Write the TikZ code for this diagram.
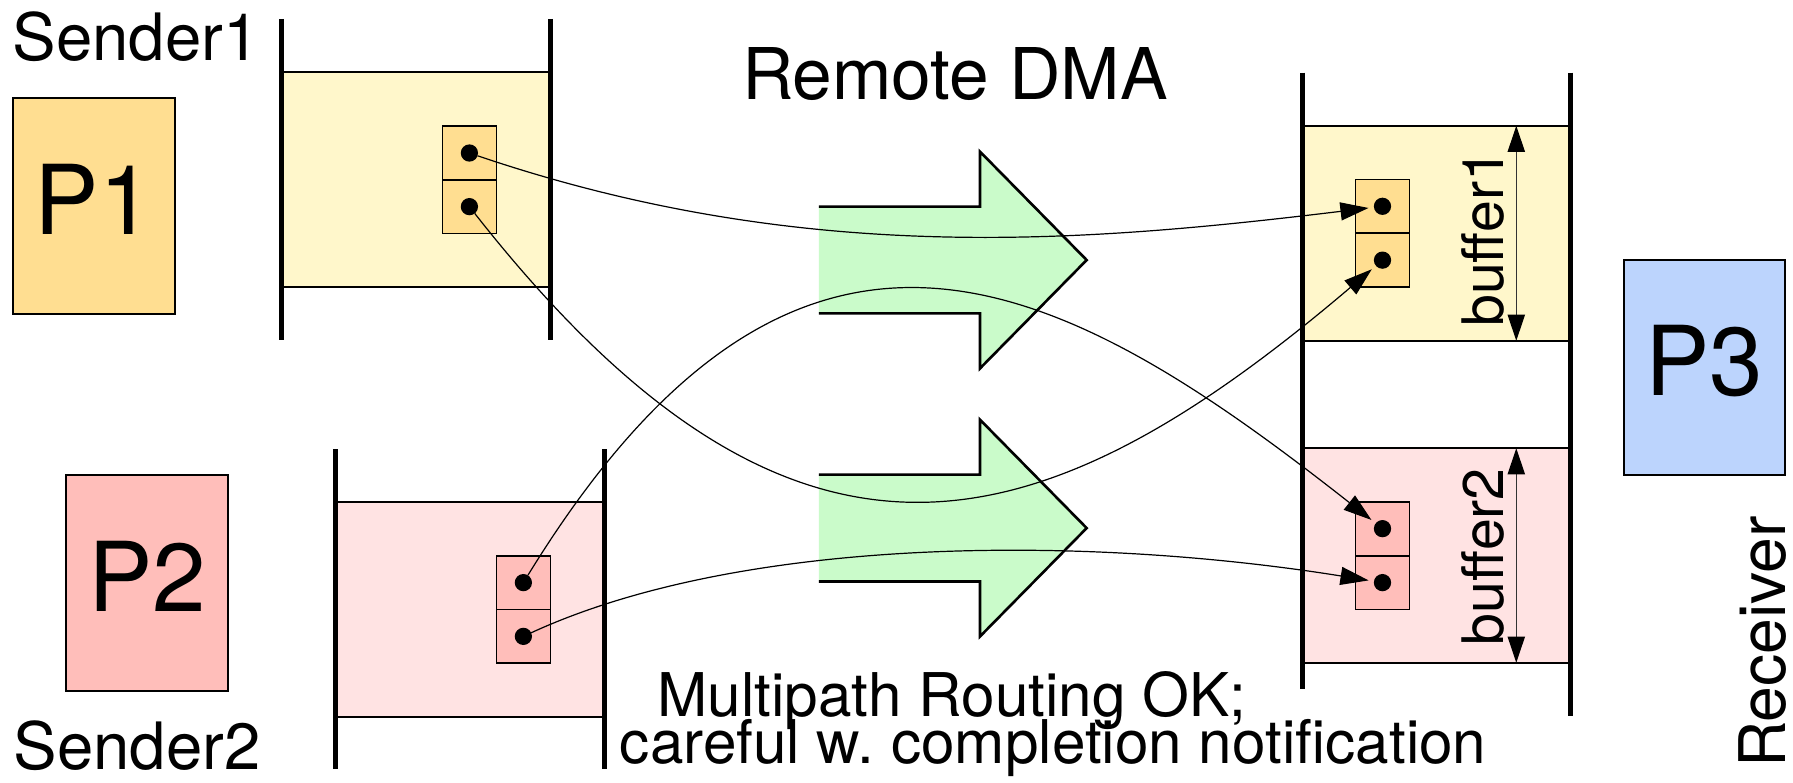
\documentclass[tikz,border=0pt]{standalone}
\usepackage{fontspec}
\setmainfont{TeX Gyre Heros}
\usetikzlibrary{arrows.meta}

\definecolor{warmfill}{RGB}{255,222,145}
\definecolor{warmpale}{RGB}{255,247,203}
\definecolor{rosefill}{RGB}{255,190,186}
\definecolor{rosepale}{RGB}{255,227,227}
\definecolor{skyfill}{RGB}{188,212,253}
\definecolor{mintfill}{RGB}{202,251,202}

\tikzset{
  dmaarrow/.pic={
    \fill[mintfill] (716.2,180.7) -- (857,180.7) -- (857,132.6) -- (950.3,227.4)
      -- (857,322.2) -- (857,274.1) -- (716.2,274.1) -- cycle;
    \draw[line width=1.3pt] (716.2,180.7) -- (857,180.7) -- (857,132.6) -- (950.3,227.4)
      -- (857,322.2) -- (857,274.1) -- (716.2,274.1);
  }
}

\begin{document}
\begin{tikzpicture}[x=0.02cm, y=-0.02cm,
  every node/.style={inner sep=0pt, outer sep=0pt},
  procbox/.style={draw, line width=1pt, minimum width=80.5pt, minimum height=107.3pt,
    text depth=6.8pt, font=\fontsize{48pt}{57pt}\selectfont},
  memfill/.style={draw, line width=1pt},
  memwall/.style={line width=2.5pt},
  cellbox/.style={draw, line width=0.7pt, minimum width=26.7pt, minimum height=26.7pt},
  dotmark/.style={circle, fill=black, minimum size=8.6pt},
  rdma/.style={-{Triangle[length=14pt,width=9pt]}, line width=0.6pt, shorten >=2.7pt},
  extent/.style={{Triangle[length=13pt,width=8.6pt,black]}-{Triangle[length=13pt,width=8.6pt,black]},
    line width=0.6pt, draw=black!80},
  lbl/.style={font=\fontsize{32.5pt}{39pt}\selectfont},
  notetext/.style={font=\fontsize{30pt}{36pt}\selectfont},
  buftext/.style={font=\fontsize{28.5pt}{34pt}\selectfont, rotate=90, anchor=base}
]
\useasboundingbox (0,0) rectangle (1568,684);

% processes
\node[procbox, fill=warmfill] (p1) at (82,180.3) {P1};
\node[procbox, fill=rosefill] (p2) at (128.7,509.7) {P2};
\node[procbox, fill=skyfill] (p3) at (1490.5,321.4) {P3};

% sender memories
\draw[memfill, fill=warmpale] (246,62.7) rectangle (481,250.7);
\draw[memwall] (246,16.6) -- (246,297.4);
\draw[memwall] (481,16.6) -- (481,297.4);

\draw[memfill, fill=rosepale] (293,438.7) rectangle (528.3,626.7);
\draw[memwall] (293,393) -- (293,672.8);
\draw[memwall] (528.3,393) -- (528.3,672.8);

% receiver memory with two buffers
\draw[memfill, fill=warmpale] (1139,110) rectangle (1373.6,298);
\draw[memfill, fill=rosepale] (1139,392) rectangle (1373.6,579.5);
\draw[memwall] (1139,63.5) -- (1139,602.8);
\draw[memwall] (1373.6,63.5) -- (1373.6,626.2);

% data cells
\node[cellbox, fill=warmfill] (s1cellA) at (410.5,133.8) {};
\node[cellbox, fill=warmfill] (s1cellB) at (410.5,180.7) {};
\node[cellbox, fill=rosefill] (s2cellA) at (457.7,509.5) {};
\node[cellbox, fill=rosefill] (s2cellB) at (457.7,556.5) {};
\node[cellbox, fill=warmfill] (r1cellA) at (1209,180.4) {};
\node[cellbox, fill=warmfill] (r1cellB) at (1209,227.5) {};
\node[cellbox, fill=rosefill] (r2cellA) at (1209,462.3) {};
\node[cellbox, fill=rosefill] (r2cellB) at (1209,509.5) {};

\node[dotmark] (s1a) at (410.5,133.8) {};
\node[dotmark] (s1b) at (410.5,180.7) {};
\node[dotmark] (s2a) at (457.7,509.5) {};
\node[dotmark] (s2b) at (457.7,556.5) {};
\node[dotmark] (r1a) at (1209,180.4) {};
\node[dotmark] (r1b) at (1209,227.5) {};
\node[dotmark] (r2a) at (1209,462.3) {};
\node[dotmark] (r2b) at (1209,509.5) {};

% network transfer arrows
\pic at (0,0) {dmaarrow};
\pic at (0,234.4) {dmaarrow};

% RDMA writes
\draw[rdma] (s1a) .. controls +(292.5,99.2) and +(-261,31.6) .. (r1a);
\draw[rdma] (s1b) .. controls +(284.5,362.3) and +(-300,255) .. (r1b);
\draw[rdma] (s2a) .. controls +(242.3,-394.5) and +(-279,-219.3) .. (r2a);
\draw[rdma] (s2b) .. controls +(192.3,-88.5) and +(-259,-41.5) .. (r2b);

% buffer extents
\coordinate (b1top) at (1326,110);
\coordinate (b1bot) at (1326,298);
\coordinate (b2top) at (1326,392);
\coordinate (b2bot) at (1326,579.5);
\draw[extent] (b1top) -- (b1bot);
\draw[extent] (b2top) -- (b2bot);

% labels
\node[lbl, anchor=base west] (snd1) at (11,52.5) {Sender1};
\node[lbl, anchor=base west] (snd2) at (12,673) {Sender2};
\node[font=\fontsize{35.5pt}{42pt}\selectfont, anchor=base] (title) at (835,87) {Remote DMA};
\node[notetext, anchor=base] (note1) at (832.5,626.7) {Multipath Routing OK;};
\node[notetext, anchor=base] (note2) at (921,667.5) {careful w.\ completion notification};
\node[buftext] (buf1) at (1315,208.4) {buffer1};
\node[buftext] (buf2) at (1315,486.8) {buffer2};
\node[font=\fontsize{32pt}{38pt}\selectfont, rotate=90, anchor=base west] (recv) at (1561,671.5) {Receiver};
\end{tikzpicture}
\end{document}
